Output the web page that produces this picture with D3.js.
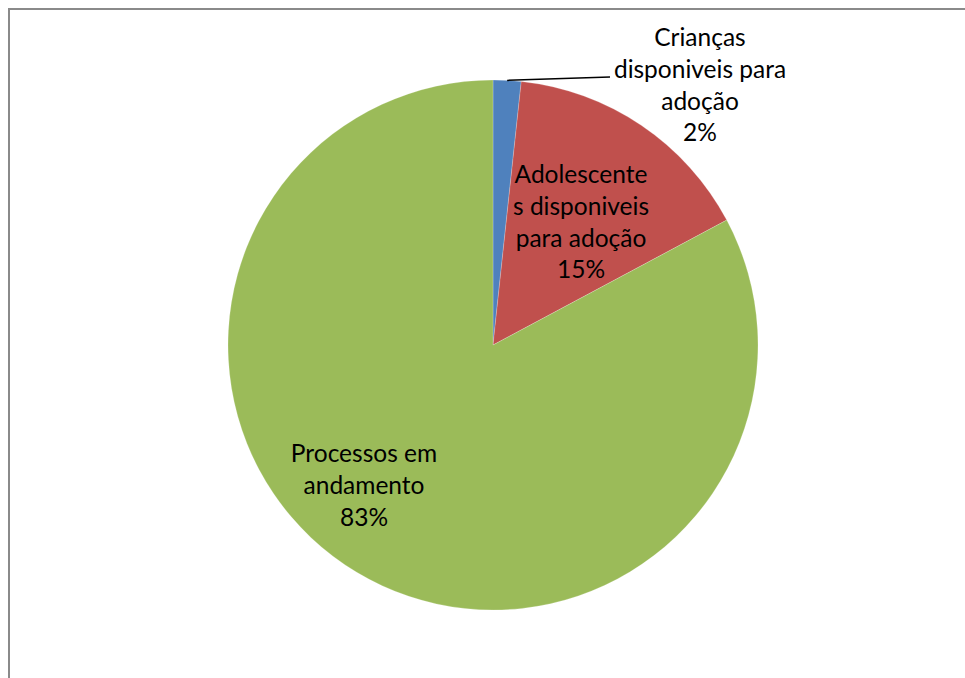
<!DOCTYPE html>
<html>
<head>
<meta charset="utf-8">
<script src="https://cdn.jsdelivr.net/npm/d3@7"></script>
<style>
  html, body { margin: 0; padding: 0; background: #fff; }
  svg { display: block; }
</style>
</head>
<body>
<svg id="area" width="965" height="678"></svg>
<script>
const categories = [
  ['Crianças', 'disponiveis para', 'adoção'],
  ['Adolescente', 's disponiveis', 'para adoção'],
  ['Processos em', 'andamento'],
];
const values = [1.7, 15.49, 82.81];
const colors = ['#4F81BD', '#C0504D', '#9BBB59'];

const svg = d3.select('#area');
const cx = 493;
const cy = 345;
const radius = 265;

// frame (only top/left edges fall inside the window)
svg.append('rect')
  .attr('x', 9)
  .attr('y', 9)
  .attr('width', 1000)
  .attr('height', 700)
  .attr('fill', '#fff')
  .attr('stroke', '#8a8a8a')
  .attr('stroke-width', 2);

const total = d3.sum(values);
const pie = d3.pie().sort(null).value((d) => d);
const arcs = pie(values);
const arc = d3.arc().innerRadius(0).outerRadius(radius);

const g = svg.append('g').attr('transform', `translate(${cx},${cy})`);

g.selectAll('path')
  .data(arcs)
  .join('path')
  .attr('d', arc)
  .attr('fill', (d, i) => colors[i])
  .attr('stroke', 'rgba(255,255,255,0.35)')
  .attr('stroke-width', 0.6);

// label anchors (center of first line's baseline, relative to pie center)
const labelLayout = [
  { dx: 207, dy: -299, leader: [117, -268] },
  { dx: 88, dy: -162 },
  { dx: -129, dy: 117 },
];
const lineH = 31.8;

// leader line for the small slice
const a0 = (arcs[0].startAngle + arcs[0].endAngle) / 2;
g.append('line')
  .attr('x1', Math.sin(a0) * radius)
  .attr('y1', -Math.cos(a0) * radius)
  .attr('x2', labelLayout[0].leader[0])
  .attr('y2', labelLayout[0].leader[1])
  .attr('stroke', '#000')
  .attr('stroke-width', 1.5);

const labels = g.append('g')
  .style('font-family', 'Lato, "Open Sans", sans-serif')
  .style('font-size', '24.5px')
  .attr('fill', '#000')
  .attr('text-anchor', 'middle');

arcs.forEach((d, i) => {
  const lines = categories[i].concat([`${Math.round((values[i] / total) * 100)}%`]);
  const t = labels.append('text')
    .attr('x', labelLayout[i].dx)
    .attr('y', labelLayout[i].dy);
  lines.forEach((s, k) => {
    t.append('tspan')
      .attr('x', labelLayout[i].dx)
      .attr('dy', k === 0 ? 0 : lineH)
      .text(s);
  });
});
</script>
</body>
</html>
